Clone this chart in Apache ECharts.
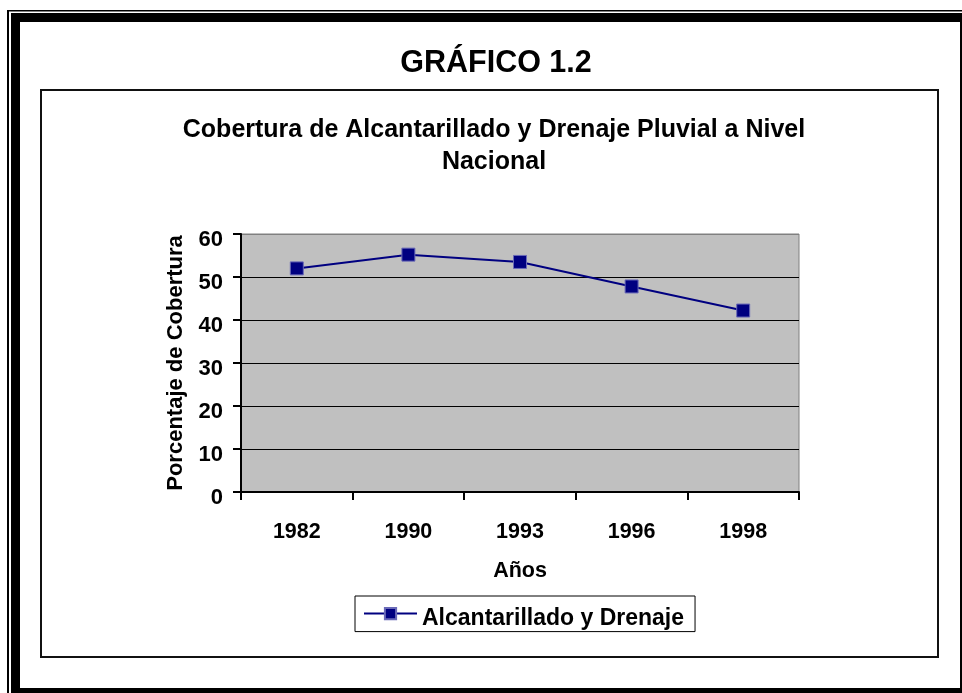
<!DOCTYPE html>
<html>
<head>
<meta charset="utf-8">
<title>Gráfico 1.2</title>
<script src="https://cdn.jsdelivr.net/npm/echarts@6/dist/echarts.min.js"></script>
<style>
  html, body { margin: 0; padding: 0; background: #fff; }
  #chart { width: 962px; height: 693px; }
</style>
</head>
<body>
<div id="chart"></div>
<script>
// años y porcentaje de cobertura
const years = ['1982', '1990', '1993', '1996', '1998']
const coverage = [52.0, 55.2, 53.5, 47.8, 42.2]
const seriesName = 'Alcantarillado y Drenaje'

const font = 'Liberation Sans, Arial, sans-serif'
const chart = echarts.init(document.getElementById('chart'))

// grid line colors: black, the top one is the gray plot border
const splitColors = ['#000', '#000', '#000', '#000', '#000', '#000', '#808080']

const option = {
  backgroundColor: '#fff',
  animation: false,
  title: [
    {
      text: 'GRÁFICO 1.2',
      left: 491,
      top: 43,
      textAlign: 'center',
      textStyle: { fontFamily: font, fontWeight: 'bold', fontSize: 30.5, color: '#000' }
    },
    {
      text: 'Cobertura de Alcantarillado y Drenaje Pluvial a Nivel\nNacional',
      left: 489,
      top: 109,
      textAlign: 'center',
      textStyle: { fontFamily: font, fontWeight: 'bold', fontSize: 25, lineHeight: 32, color: '#000' }
    }
  ],
  // marco exterior y recuadro del gráfico
  graphic: [
    { type: 'rect', shape: { x: 7, y: 10, width: 2, height: 683 }, style: { fill: '#000' } },
    { type: 'rect', shape: { x: 7, y: 10, width: 955, height: 1.5 }, style: { fill: '#000' } },
    { type: 'rect', shape: { x: 11, y: 13, width: 9, height: 680 }, style: { fill: '#000' } },
    { type: 'rect', shape: { x: 11, y: 13, width: 951, height: 9 }, style: { fill: '#000' } },
    { type: 'rect', shape: { x: 11, y: 688, width: 951, height: 5 }, style: { fill: '#000' } },
    { type: 'rect', shape: { x: 960, y: 13, width: 2, height: 680 }, style: { fill: '#000' } },
    {
      type: 'rect',
      shape: { x: 41, y: 90, width: 897, height: 567 },
      style: { fill: 'none', stroke: '#111', lineWidth: 2 }
    }
  ],
  legend: {
    data: [seriesName],
    left: 355,
    top: 596,
    width: 339,
    padding: [11, 11, 1, 8],
    borderColor: '#000',
    borderWidth: 1,
    itemWidth: 53,
    itemHeight: 14,
    itemGap: 0,
    formatter: name => '{t|' + name + '}',
    textStyle: {
      fontFamily: font,
      fontWeight: 'bold',
      fontSize: 23,
      color: '#000',
      rich: {
        t: {
          fontFamily: font,
          fontWeight: 'bold',
          fontSize: 23,
          color: '#000',
          padding: [11, 0, 0, 0]
        }
      }
    }
  },
  grid: {
    left: 241,
    right: 163,
    top: 234,
    bottom: 201,
    show: true,
    backgroundColor: '#c0c0c0',
    borderColor: '#808080',
    borderWidth: 1
  },
  xAxis: {
    type: 'category',
    data: years,
    boundaryGap: true,
    name: 'Años',
    nameLocation: 'middle',
    nameGap: 68,
    nameTextStyle: { fontFamily: font, fontWeight: 'bold', fontSize: 21.5, color: '#000' },
    axisLine: { lineStyle: { color: '#000', width: 2 } },
    axisTick: { show: true, length: 8, lineStyle: { color: '#000', width: 2 } },
    axisLabel: { margin: 29, fontFamily: font, fontWeight: 'bold', fontSize: 21.5, color: '#000' },
    splitLine: { show: false }
  },
  yAxis: {
    type: 'value',
    min: 0,
    max: 60,
    interval: 10,
    name: 'Porcentaje de Cobertura',
    nameLocation: 'middle',
    nameRotate: 90,
    nameGap: 54,
    nameTextStyle: { fontFamily: font, fontWeight: 'bold', fontSize: 22, color: '#000' },
    axisLine: { show: true, lineStyle: { color: '#000', width: 2 } },
    axisTick: { show: true, length: 8, lineStyle: { color: '#000', width: 2 } },
    axisLabel: {
      margin: 18,
      fontFamily: font,
      fontWeight: 'bold',
      fontSize: 22,
      color: '#000',
      verticalAlign: 'top',
      lineHeight: 12
    },
    splitLine: { show: true, lineStyle: { color: splitColors, width: 1.2 } }
  },
  series: [
    {
      name: seriesName,
      type: 'line',
      data: coverage,
      symbol: 'rect',
      symbolSize: 13,
      lineStyle: { color: '#000080', width: 2 },
      itemStyle: { color: '#000080', borderColor: '#6a6ab8', borderWidth: 1 }
    }
  ]
}

chart.setOption(option)
</script>
</body>
</html>
